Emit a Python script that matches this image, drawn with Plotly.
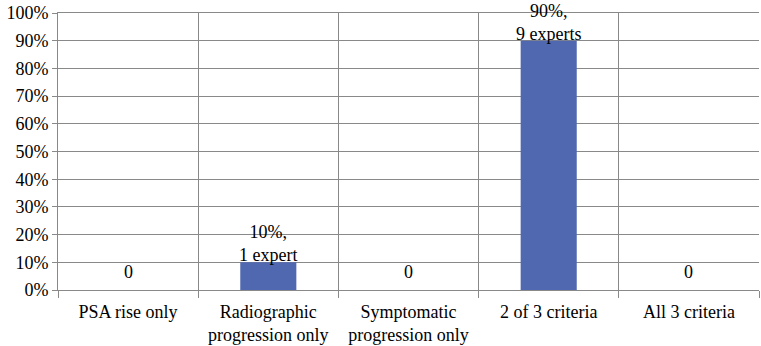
import plotly.graph_objects as go

categories = ["PSA rise only", "Radiographic<br>progression only", "Symptomatic<br>progression only",
              "2 of 3 criteria", "All 3 criteria"]
values = [0, 10, 0, 90, 0]
experts = [0, 1, 0, 9, 0]
y_tickvals = list(range(0, 101, 10))
y_ticktext = [f"{v}%" for v in y_tickvals]

def label(v, n):
    if v == 0:
        return "0"
    return f"{v}%,<br>{n} expert" + ("s" if n != 1 else "")

FONT = "Liberation Serif"
GRID = "#898989"
FS = 18

fig = go.Figure()
fig.add_trace(go.Bar(
    x=categories, y=values, width=0.4,
    marker=dict(color="#5068AF", line=dict(width=0)),
    hoverinfo="skip",
))

for c, v, n in zip(categories, values, experts):
    fig.add_annotation(
        x=c, y=v, xref="x", yref="y", text=label(v, n), showarrow=False,
        yanchor="bottom", yshift=(6 if v == 0 else -5),
        font=dict(family=FONT, size=FS, color="black"),
    )

fig.update_layout(
    width=761, height=346,
    margin=dict(l=58, r=2, t=13, b=56, autoexpand=False),
    paper_bgcolor="white", plot_bgcolor="white",
    showlegend=False,
    bargap=0.6,
    xaxis=dict(
        type="category", tickson="boundaries", showgrid=True, gridcolor=GRID, gridwidth=1,
        ticks="outside", ticklen=7, tickcolor=GRID, showline=True, linecolor=GRID,
        linewidth=1, mirror=True, range=[-0.5, 4.5], zeroline=False,
        ticklabelstandoff=5,
        tickfont=dict(family=FONT, size=FS, color="black"),
    ),
    yaxis=dict(
        range=[0, 100], tickvals=y_tickvals, ticktext=y_ticktext, showgrid=True,
        gridcolor=GRID, gridwidth=1, ticks="outside", ticklen=5, tickcolor=GRID,
        showline=True, linecolor=GRID, linewidth=1, zeroline=False,
        tickfont=dict(family=FONT, size=FS, color="black"),
    ),
)

fig.write_html("out.html", post_script="document.body.style.margin='0';",
               config={"displayModeBar": False})
